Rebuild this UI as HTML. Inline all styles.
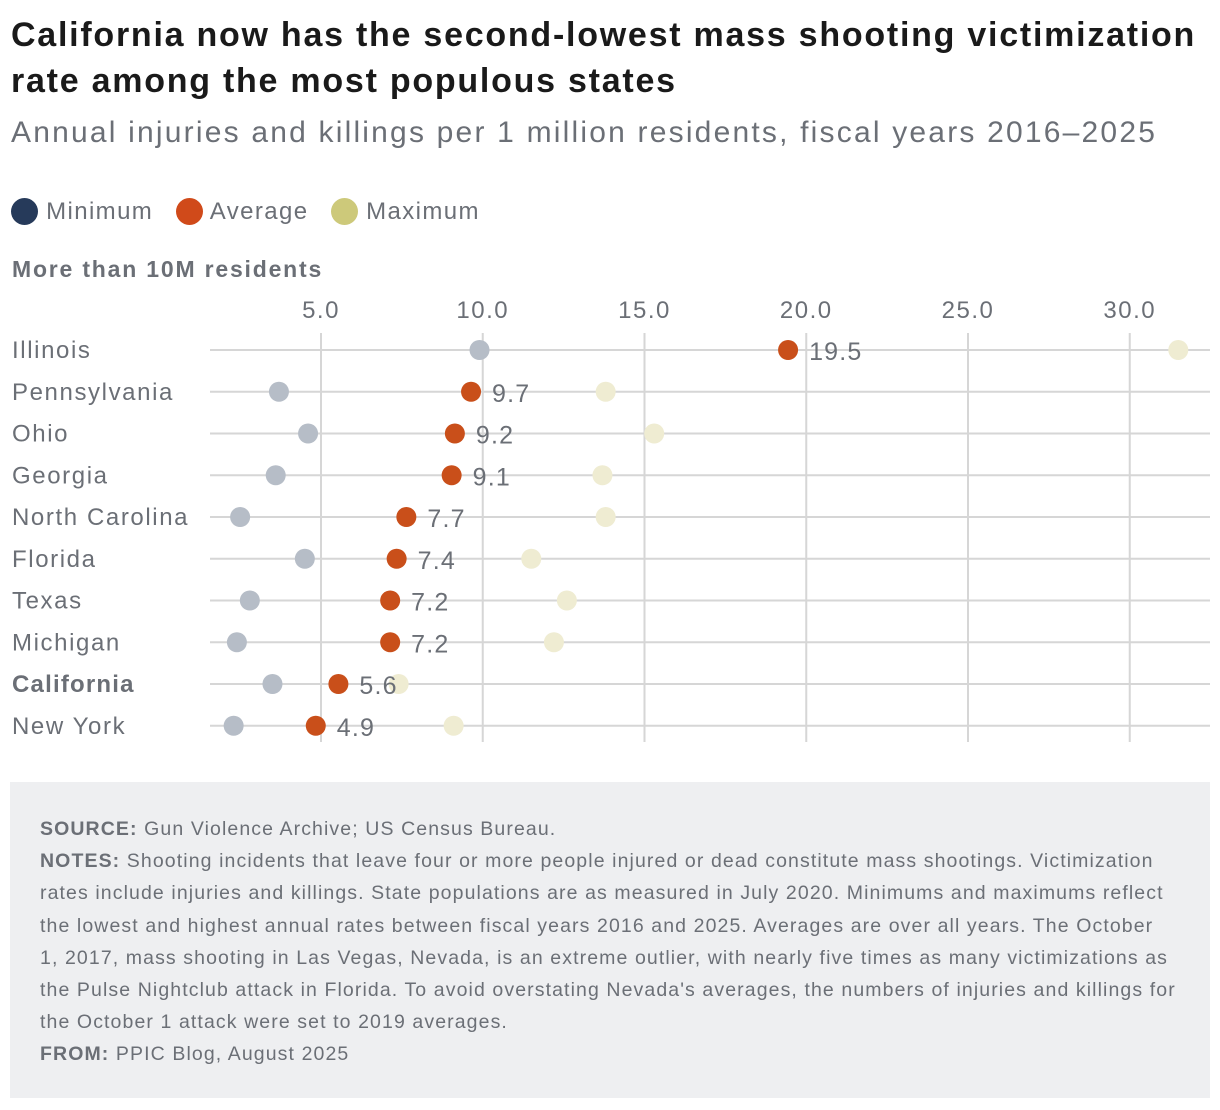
<!DOCTYPE html>
<html><head><meta charset="utf-8"><style>
body{margin:0;background:#fff;font-family:"Liberation Sans",sans-serif;}
#wrap{position:relative;width:1220px;height:1110px;}
.t{position:absolute;white-space:nowrap;}
</style></head><body>
<div id="wrap">
<div class="t" style="left:11px;top:12px;font-size:34px;letter-spacing:1.75px;font-weight:bold;color:#1a1a1a;line-height:46px;">California now has the second-lowest mass shooting victimization<br>rate among the most populous states</div>
<div class="t" style="left:11px;top:116px;font-size:30px;letter-spacing:2.2px;color:#6b6f76;">Annual injuries and killings per 1 million residents, fiscal years 2016–2025</div>
<div style="position:absolute;left:11px;top:198px;font-size:24px;letter-spacing:1.4px;color:#6b6f76;">
<span style="position:absolute;left:0;top:0;white-space:nowrap"><span style="display:inline-block;width:27px;height:27px;border-radius:50%;background:#263a5a;vertical-align:-6px"></span> Minimum</span>
<span style="position:absolute;left:165px;top:0;white-space:nowrap"><span style="display:inline-block;width:27px;height:27px;border-radius:50%;background:#d04a1a;vertical-align:-6px"></span> Average</span>
<span style="position:absolute;left:320px;top:0;white-space:nowrap"><span style="display:inline-block;width:27px;height:27px;border-radius:50%;background:#cdc97a;vertical-align:-6px"></span> Maximum</span>
</div>
<div class="t" style="left:12px;top:256px;font-size:23px;letter-spacing:1.8px;font-weight:bold;color:#6b6f76;">More than 10M residents</div>
<svg id="chart" width="1220" height="760" style="position:absolute;left:0;top:0"></svg>
<div style="position:absolute;left:10px;top:782px;width:1200px;height:316px;background:#eeeff1;"></div>
<div class="t" style="left:40px;top:813px;font-size:19.5px;letter-spacing:1.1px;line-height:32.2px;color:#6b6f76;">
<b>SOURCE:</b> Gun Violence Archive; US Census Bureau.<br>
<b>NOTES:</b> Shooting incidents that leave four or more people injured or dead constitute mass shootings. Victimization<br>rates include injuries and killings. State populations are as measured in July 2020. Minimums and maximums reflect<br>the lowest and highest annual rates between fiscal years 2016 and 2025. Averages are over all years. The October<br>1, 2017, mass shooting in Las Vegas, Nevada, is an extreme outlier, with nearly five times as many victimizations as<br>the Pulse Nightclub attack in Florida. To avoid overstating Nevada's averages, the numbers of injuries and killings for<br>the October 1 attack were set to 2019 averages.<br>
<b>FROM:</b> PPIC Blog, August 2025</div>
</div>
<script>
const states=["Illinois","Pennsylvania","Ohio","Georgia","North Carolina","Florida","Texas","Michigan","California","New York"];
const minVals=[9.9,3.7,4.6,3.6,2.5,4.5,2.8,2.4,3.5,2.3];
const avgVals=[19.5,9.7,9.2,9.1,7.7,7.4,7.2,7.2,5.6,4.9];
const maxVals=[31.5,13.8,15.3,13.7,13.8,11.5,12.6,12.2,7.4,9.1];
const ticks=[5,10,15,20,25,30];
const NS="http://www.w3.org/2000/svg";
const svg=document.getElementById('chart');
const x=v=>321+(v-5)*32.35;
const y=i=>350+i*41.75;
function mk(tag,attrs){const e=document.createElementNS(NS,tag);for(const k in attrs)e.setAttribute(k,attrs[k]);svg.appendChild(e);return e;}
states.forEach((s,i)=>{const l=mk('line',{x1:210,x2:1210,y1:y(i),y2:y(i),stroke:'#d6d6d6','stroke-width':2});

});
ticks.forEach(t=>{const l=mk('line',{x1:x(t),x2:x(t),y1:333,y2:742,stroke:'#d6d6d6','stroke-width':2});


const tx=mk('text',{x:x(t),y:318,'text-anchor':'middle','font-size':24,'letter-spacing':1.5,fill:'#6b6f76','font-family':'Liberation Sans, sans-serif'});
tx.textContent=t.toFixed(1);

});
states.forEach((s,i)=>{
const lb=mk('text',{x:12,y:y(i)+8,'font-size':24,'letter-spacing':s==='California'?1.2:1.6,fill:'#6b6f76','font-weight':s==='California'?'bold':'normal','font-family':'Liberation Sans, sans-serif'});
lb.textContent=s;


const mn=mk('circle',{cx:x(minVals[i]),cy:y(i),r:10,fill:'#b6bdc7'});


const mx=mk('circle',{cx:x(maxVals[i]),cy:y(i),r:10,fill:'#efecd2'});


const av=mk('circle',{cx:x(avgVals[i])-2,cy:y(i),r:10,fill:'#c94f1a'});


const vl=mk('text',{x:x(avgVals[i])+19,y:y(i)+10,'font-size':25,'letter-spacing':1.2,fill:'#6b6f76','font-family':'Liberation Sans, sans-serif'});
vl.textContent=avgVals[i].toFixed(1);


});
</script>
</body></html>
